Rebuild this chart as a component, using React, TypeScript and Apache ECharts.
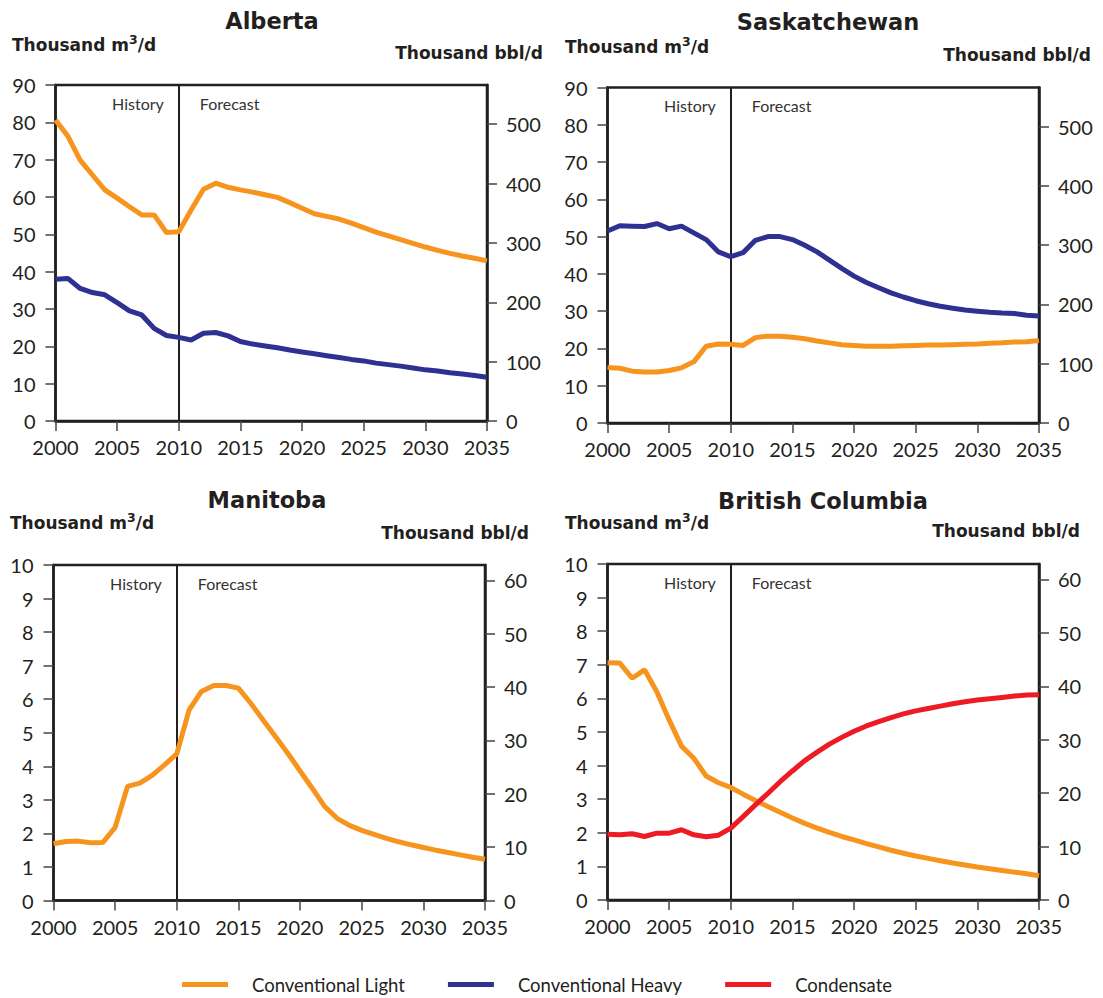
import React, { useEffect, useRef } from "react";
import * as echarts from "echarts";

const YEARS = [2000, 2001, 2002, 2003, 2004, 2005, 2006, 2007, 2008, 2009, 2010, 2011, 2012, 2013, 2014, 2015, 2016, 2017, 2018, 2019, 2020, 2021, 2022, 2023, 2024, 2025, 2026, 2027, 2028, 2029, 2030, 2031, 2032, 2033, 2034, 2035];

const AB_LIGHT = [80.6, 76.3, 69.9, 65.9, 61.9, 59.7, 57.4, 55.2, 55.2, 50.5, 50.7, 56.5, 62.1, 63.7, 62.6, 61.9, 61.3, 60.6, 59.9, 58.5, 57.0, 55.5, 54.8, 54.1, 53.0, 51.8, 50.6, 49.6, 48.6, 47.6, 46.6, 45.7, 44.9, 44.2, 43.6, 42.9];
const AB_HEAVY = [38.0, 38.2, 35.5, 34.4, 33.8, 31.7, 29.5, 28.4, 24.8, 22.9, 22.4, 21.7, 23.5, 23.7, 22.8, 21.3, 20.6, 20.1, 19.6, 19.0, 18.5, 18.0, 17.5, 17.0, 16.5, 16.1, 15.5, 15.1, 14.7, 14.2, 13.7, 13.4, 12.9, 12.6, 12.2, 11.7];

const SK_LIGHT = [14.9, 14.7, 13.9, 13.7, 13.7, 14.1, 14.8, 16.4, 20.6, 21.2, 21.1, 20.8, 22.9, 23.3, 23.3, 23.0, 22.6, 22.0, 21.5, 21.0, 20.8, 20.6, 20.6, 20.6, 20.7, 20.8, 20.9, 20.9, 21.0, 21.1, 21.2, 21.4, 21.5, 21.7, 21.8, 22.1];
const SK_HEAVY = [51.5, 52.9, 52.8, 52.7, 53.5, 52.1, 52.8, 51.0, 49.2, 45.9, 44.6, 45.7, 49.0, 50.0, 50.0, 49.2, 47.7, 45.9, 43.7, 41.5, 39.4, 37.7, 36.3, 34.9, 33.8, 32.8, 32.0, 31.3, 30.8, 30.3, 30.0, 29.7, 29.5, 29.4, 28.9, 28.7];

const MB_LIGHT = [1.69, 1.76, 1.77, 1.72, 1.73, 2.18, 3.40, 3.50, 3.73, 4.04, 4.37, 5.68, 6.23, 6.41, 6.41, 6.33, 5.88, 5.38, 4.89, 4.39, 3.86, 3.34, 2.80, 2.45, 2.24, 2.09, 1.97, 1.85, 1.75, 1.66, 1.58, 1.50, 1.43, 1.36, 1.29, 1.23];

const BC_LIGHT = [7.06, 7.05, 6.60, 6.85, 6.20, 5.36, 4.58, 4.22, 3.69, 3.49, 3.35, 3.15, 2.96, 2.78, 2.61, 2.44, 2.28, 2.14, 2.01, 1.89, 1.79, 1.68, 1.58, 1.48, 1.39, 1.31, 1.24, 1.17, 1.10, 1.04, 0.98, 0.93, 0.88, 0.83, 0.78, 0.72];
const BC_CONDENSATE = [1.96, 1.94, 1.97, 1.89, 1.99, 1.99, 2.09, 1.94, 1.88, 1.93, 2.14, 2.48, 2.83, 3.17, 3.52, 3.84, 4.15, 4.40, 4.64, 4.84, 5.02, 5.18, 5.31, 5.43, 5.54, 5.63, 5.70, 5.77, 5.84, 5.90, 5.95, 5.99, 6.03, 6.07, 6.10, 6.11];

const PANEL_TITLES = ["Alberta", "Saskatchewan", "Manitoba", "British Columbia"];
const LEFT_MAX = [90, 90, 10, 10];
const LEFT_INTERVAL = [10, 10, 1, 1];
const RIGHT_TICKS_LARGE = [0, 100, 200, 300, 400, 500];
const RIGHT_TICKS_SMALL = [0, 10, 20, 30, 40, 50, 60];
const BBL_PER_M3 = 6.2898;
const X_TICKS = [2000, 2005, 2010, 2015, 2020, 2025, 2030, 2035];
const SPLIT_YEAR = 2010;

const SERIES_NAMES = ["Conventional Light", "Conventional Heavy", "Condensate"];
const COLORS: Record<string, string> = {
  "Conventional Light": "#F7941D",
  "Conventional Heavy": "#2E3192",
  Condensate: "#ED1C24",
};

const PANEL_SERIES: { name: string; values: number[] }[][] = [
  [
    { name: "Conventional Light", values: AB_LIGHT },
    { name: "Conventional Heavy", values: AB_HEAVY },
  ],
  [
    { name: "Conventional Heavy", values: SK_HEAVY },
    { name: "Conventional Light", values: SK_LIGHT },
  ],
  [{ name: "Conventional Light", values: MB_LIGHT }],
  [
    { name: "Conventional Light", values: BC_LIGHT },
    { name: "Condensate", values: BC_CONDENSATE },
  ],
];

// layout
const GRIDS = [
  { left: 55.5, top: 85, width: 431.5, height: 336 },
  { left: 607.5, top: 87.5, width: 431.5, height: 335.5 },
  { left: 53.5, top: 565, width: 431.5, height: 335.5 },
  { left: 607.5, top: 564, width: 431.5, height: 336 },
];
const HEADERS = [
  { titleX: 272, titleY: 21, m3X: 12, m3Y: 45, bblX: 543, bblY: 53 },
  { titleX: 828, titleY: 22, m3X: 565, m3Y: 47, bblX: 1091, bblY: 55 },
  { titleX: 267, titleY: 500, m3X: 10, m3Y: 523, bblX: 529, bblY: 533 },
  { titleX: 823, titleY: 501, m3X: 565, m3Y: 523, bblX: 1080, bblY: 531 },
];

const FONT = "Lato, 'Open Sans', sans-serif";
const BOLD_FONT = "'DejaVu Sans', Lato, sans-serif";
const TXT = "#231f20";

export default function App() {
  const ref = useRef<HTMLDivElement>(null);
  useEffect(() => {
    if (!ref.current) return;
    const chart = echarts.init(ref.current, undefined, { renderer: "svg" });

    const xAxes: any[] = [];
    const yAxes: any[] = [];
    const series: any[] = [];
    const graphics: any[] = [];

    GRIDS.forEach((g, i) => {
      xAxes.push({
        type: "value",
        gridIndex: i,
        min: 2000,
        max: 2035,
        interval: 5,
        axisLine: { show: true, lineStyle: { color: TXT, width: 2.5 } },
        axisTick: { show: true, length: 10, lineStyle: { color: "#444", width: 1.5 } },
        axisLabel: {
          fontSize: 20,
          color: TXT,
          fontFamily: FONT,
          margin: 16,
          customValues: X_TICKS,
          formatter: (v: number) => String(v),
        },
        splitLine: { show: false },
      });
      const rightMax = LEFT_MAX[i] * BBL_PER_M3;
      const rTicks = LEFT_MAX[i] > 10 ? RIGHT_TICKS_LARGE : RIGHT_TICKS_SMALL;
      yAxes.push({
        type: "value",
        gridIndex: i,
        position: "left",
        min: 0,
        max: LEFT_MAX[i],
        interval: LEFT_INTERVAL[i],
        axisLine: { show: true, lineStyle: { color: TXT, width: 2.5 } },
        axisTick: { show: true, length: 10, lineStyle: { color: "#444", width: 1.5 } },
        axisLabel: { fontSize: 20, color: TXT, fontFamily: FONT, margin: 20 },
        splitLine: { show: false },
      });
      yAxes.push({
        type: "value",
        gridIndex: i,
        position: "right",
        min: 0,
        max: rightMax,
        interval: rTicks[1],
        axisLine: { show: true, lineStyle: { color: TXT, width: 2.5 } },
        axisTick: { show: true, length: 10, lineStyle: { color: "#444", width: 1.5 }, customValues: rTicks },
        axisLabel: { fontSize: 20, color: TXT, fontFamily: FONT, margin: 19, customValues: rTicks },
        splitLine: { show: false },
      });

      PANEL_SERIES[i].forEach((s, k) => {
        series.push({
          type: "line",
          name: s.name,
          xAxisIndex: i,
          yAxisIndex: i * 2,
          data: s.values.map((v, j) => [YEARS[j], v]),
          showSymbol: false,
          symbol: "none",
          color: COLORS[s.name],
          lineStyle: { width: 5, color: COLORS[s.name] },
          z: 3,
          markLine:
            k === 0
              ? {
                  silent: true,
                  symbol: "none",
                  label: { show: false },
                  lineStyle: { color: TXT, width: 2, type: "solid" },
                  data: [{ xAxis: SPLIT_YEAR }],
                  z: 2,
                }
              : undefined,
        });
      });

      const splitX = g.left + (g.width * (SPLIT_YEAR - 2000)) / 35;
      graphics.push({
        type: "text",
        x: splitX - 15,
        y: g.top + 18,
        style: { text: "History", fill: "#333", fontSize: 16, fontFamily: FONT, align: "right", verticalAlign: "middle" },
      });
      graphics.push({
        type: "text",
        x: splitX + 21,
        y: g.top + 18,
        style: { text: "Forecast", fill: "#333", fontSize: 16, fontFamily: FONT, align: "left", verticalAlign: "middle" },
      });
      const h = HEADERS[i];
      graphics.push({
        type: "text",
        x: h.titleX,
        y: h.titleY,
        style: { text: PANEL_TITLES[i], fill: TXT, fontSize: 22.5, fontWeight: "bold", fontFamily: BOLD_FONT, align: "center", verticalAlign: "middle" },
      });
      graphics.push({
        type: "text",
        x: h.m3X,
        y: h.m3Y,
        style: {
          text: "{a|Thousand m}{s|3}{a|/d}",
          fill: TXT,
          fontFamily: BOLD_FONT,
          align: "left",
          verticalAlign: "middle",
          rich: {
            a: { fontSize: 17, fontWeight: "bold", fontFamily: BOLD_FONT, fill: TXT, lineHeight: 24 },
            s: { fontSize: 12.5, fontWeight: "bold", fontFamily: BOLD_FONT, fill: TXT, verticalAlign: "top", lineHeight: 14 },
          },
        },
      });
      graphics.push({
        type: "text",
        x: h.bblX,
        y: h.bblY,
        style: { text: "Thousand bbl/d", fill: TXT, fontSize: 17, fontWeight: "bold", fontFamily: BOLD_FONT, align: "right", verticalAlign: "middle" },
      });
    });

    chart.setOption({
      animation: false,
      backgroundColor: "#ffffff",
      textStyle: { fontFamily: FONT },
      grid: GRIDS.map((g) => ({ ...g, show: true, borderColor: TXT, borderWidth: 2.5, containLabel: false })),
      xAxis: xAxes,
      yAxis: yAxes,
      series,
      legend: {
        data: SERIES_NAMES,
        left: 182,
        top: 975,
        padding: 0,
        icon: "rect",
        itemWidth: 46,
        itemHeight: 5,
        itemGap: 43,
        selectedMode: false,
        textStyle: { fontSize: 18.5, color: TXT, fontFamily: FONT, padding: [0, 0, 0, 19] },
      },
      graphic: graphics,
    });

    return () => chart.dispose();
  }, []);

  return <div ref={ref} style={{ position: "fixed", left: 0, top: 0, width: 1103, height: 998 }} />;
}
